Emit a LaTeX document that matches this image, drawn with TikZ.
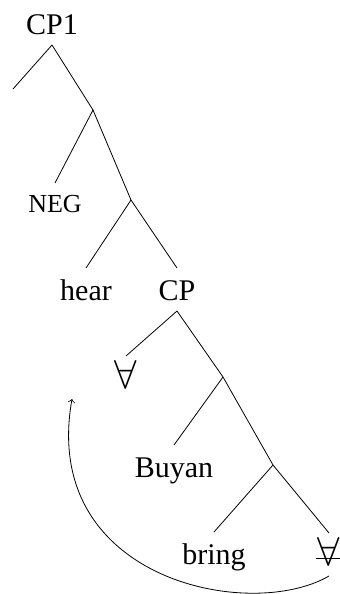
\documentclass[tikz,border=0pt]{standalone}
\usepackage{fontspec}
\setmainfont{Liberation Serif}
\usepackage{tikz}

\newcommand{\bigall}{\scalebox{1.4}{$\forall$}}

\begin{document}
\begin{tikzpicture}[x=0.5pt, y=-0.5pt,
  every node/.style={font=\fontsize{15}{18}\selectfont},
  lbl/.style={inner sep=0pt, outer ysep=5.5pt, text height=10.5pt,
              text depth=0pt, anchor=base}]

\useasboundingbox (0,0) rectangle (339,594);

\node[lbl] (cp1) at (52,34) {CP1};
\coordinate (e1) at (13,89);
\coordinate (n1) at (93,110);
\node[lbl, font=\fontsize{13}{15}\selectfont, text height=9pt] (neg) at (55,212) {NEG};
\coordinate (n2) at (131,200);
\node[lbl] (hear) at (86,300) {hear};
\node[lbl] (cp) at (177,300) {CP};
\node[lbl] (fa) at (126,388) {\bigall};
\coordinate (n3) at (223,377);
\node[lbl] (buyan) at (174,477) {Buyan};
\coordinate (n4) at (273,465);
\node[lbl] (bring) at (214,564) {bring};
\node[lbl] (tr) at (329,565) {\bigall};

\draw (cp1.south) -- (e1);
\draw (cp1.south) -- (n1);
\draw (n1) -- (neg.north);
\draw (n1) -- (n2);
\draw (n2) -- (hear.north);
\draw (n2) -- (cp.north);
\draw (cp.south) -- (fa.north);
\draw (cp.south) -- (n3);
\draw (n3) -- (buyan.north);
\draw (n3) -- (n4);
\draw (n4) -- (bring.north);
\draw (n4) -- (tr.north);

% struck-out copy
\draw ([xshift=-0.5pt,yshift=-1.75pt]tr.west) -- ([xshift=1pt,yshift=-1.75pt]tr.east);

% movement
\coordinate (back) at (72,399);
\draw[->] (tr.south) .. controls (250,622) and (40,580) .. (back);
\end{tikzpicture}
\end{document}
